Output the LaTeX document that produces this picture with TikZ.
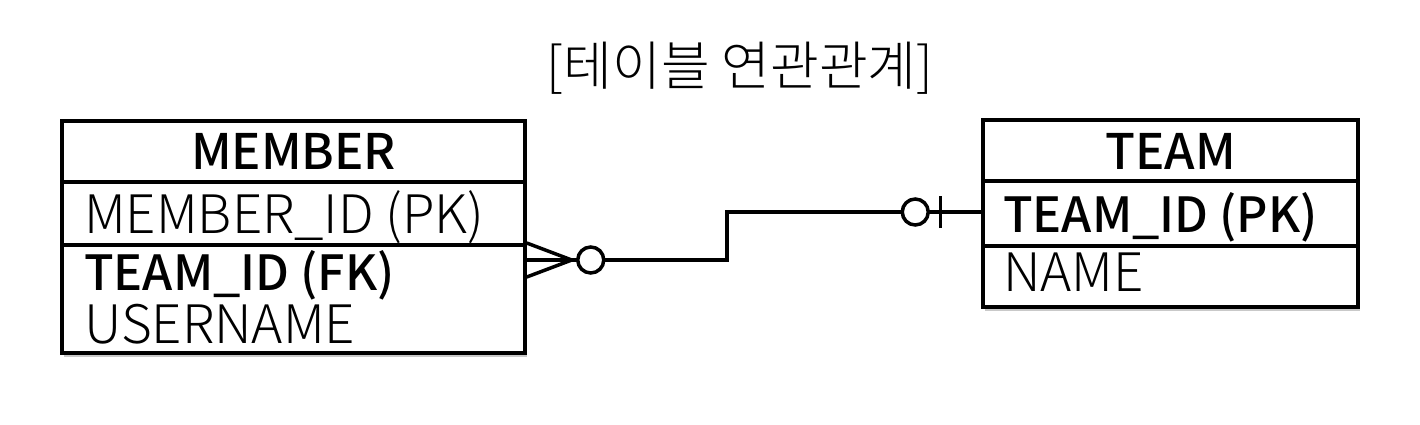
\documentclass[tikz,border=0pt]{standalone}
\usepackage{fontspec}
\setmainfont{Noto Sans CJK KR Light}[BoldFont={Noto Sans CJK KR Medium}]
\usetikzlibrary{shadows}
\begin{document}
\begin{tikzpicture}[x=1pt,y=-1pt,
  tbl/.style={draw=black, line width=3.5pt, fill=white, inner sep=0pt,
    drop shadow={opacity=0.3, shadow xshift=2pt, shadow yshift=-4pt, fill=black!70}},
  sep/.style={line width=3.5pt},
  conn/.style={line width=3.5pt, line join=miter},
  hdr/.style={font=\fontsize{49}{54}\selectfont\bfseries, inner sep=0pt},
  rowtxt/.style={font=\fontsize{53}{58}\selectfont, inner sep=0pt, anchor=base west},
  rowbold/.style={font=\fontsize{48.5}{54}\selectfont\bfseries, inner sep=0pt, anchor=base west},
  ttl/.style={font=\fontsize{53}{60}\selectfont, inner sep=0pt}]
\useasboundingbox (0,0) rectangle (1420,424);
% title
\node[ttl] (title) at (740,68) {[테이블 연관관계]};
% MEMBER table
\node[tbl, minimum width=463pt, minimum height=232pt] (member) at (293.5,237) {};
\draw[sep] (62,182) -- (525,182);
\draw[sep] (62,245) -- (525,245);
\node[hdr] (mh) at (293.5,151) {MEMBER};
\node[rowtxt] (m1) at (84,233) {MEMBER\_ID (PK)};
\node[rowbold] (m2) at (84,290) {TEAM\_ID (FK)};
\node[rowtxt] (m3) at (84,343) {USERNAME};
% TEAM table
\node[tbl, minimum width=375pt, minimum height=187pt] (team) at (1170.5,213.5) {};
\draw[sep] (983,181) -- (1358,181);
\draw[sep] (983,246) -- (1358,246);
\node[hdr] (th) at (1170.5,151) {TEAM};
\node[rowbold] (t1) at (1003,232) {TEAM\_ID (PK)};
\node[rowtxt] (t2) at (1003,291) {NAME};
% connector
\coordinate (a) at (member.east |- 0,260);
\coordinate (b) at (team.west |- 0,212);
\draw[conn] ([yshift=-17pt]a) -- ([xshift=45pt]a) -- ([yshift=17pt]a);
\draw[conn] (a) -- ([xshift=51pt]a);
\draw[conn] ([xshift=64pt]a) circle[radius=13pt];
\draw[conn] ([xshift=77pt]a) -- ([xshift=200pt]a) |- ([xshift=-79pt]b);
\draw[conn] ([xshift=-66pt]b) circle[radius=13pt];
\draw[conn] ([xshift=-53pt]b) -- (b);
\draw[conn] ([xshift=-41pt,yshift=-16pt]b) -- ([xshift=-41pt,yshift=16pt]b);
\end{tikzpicture}
\end{document}
